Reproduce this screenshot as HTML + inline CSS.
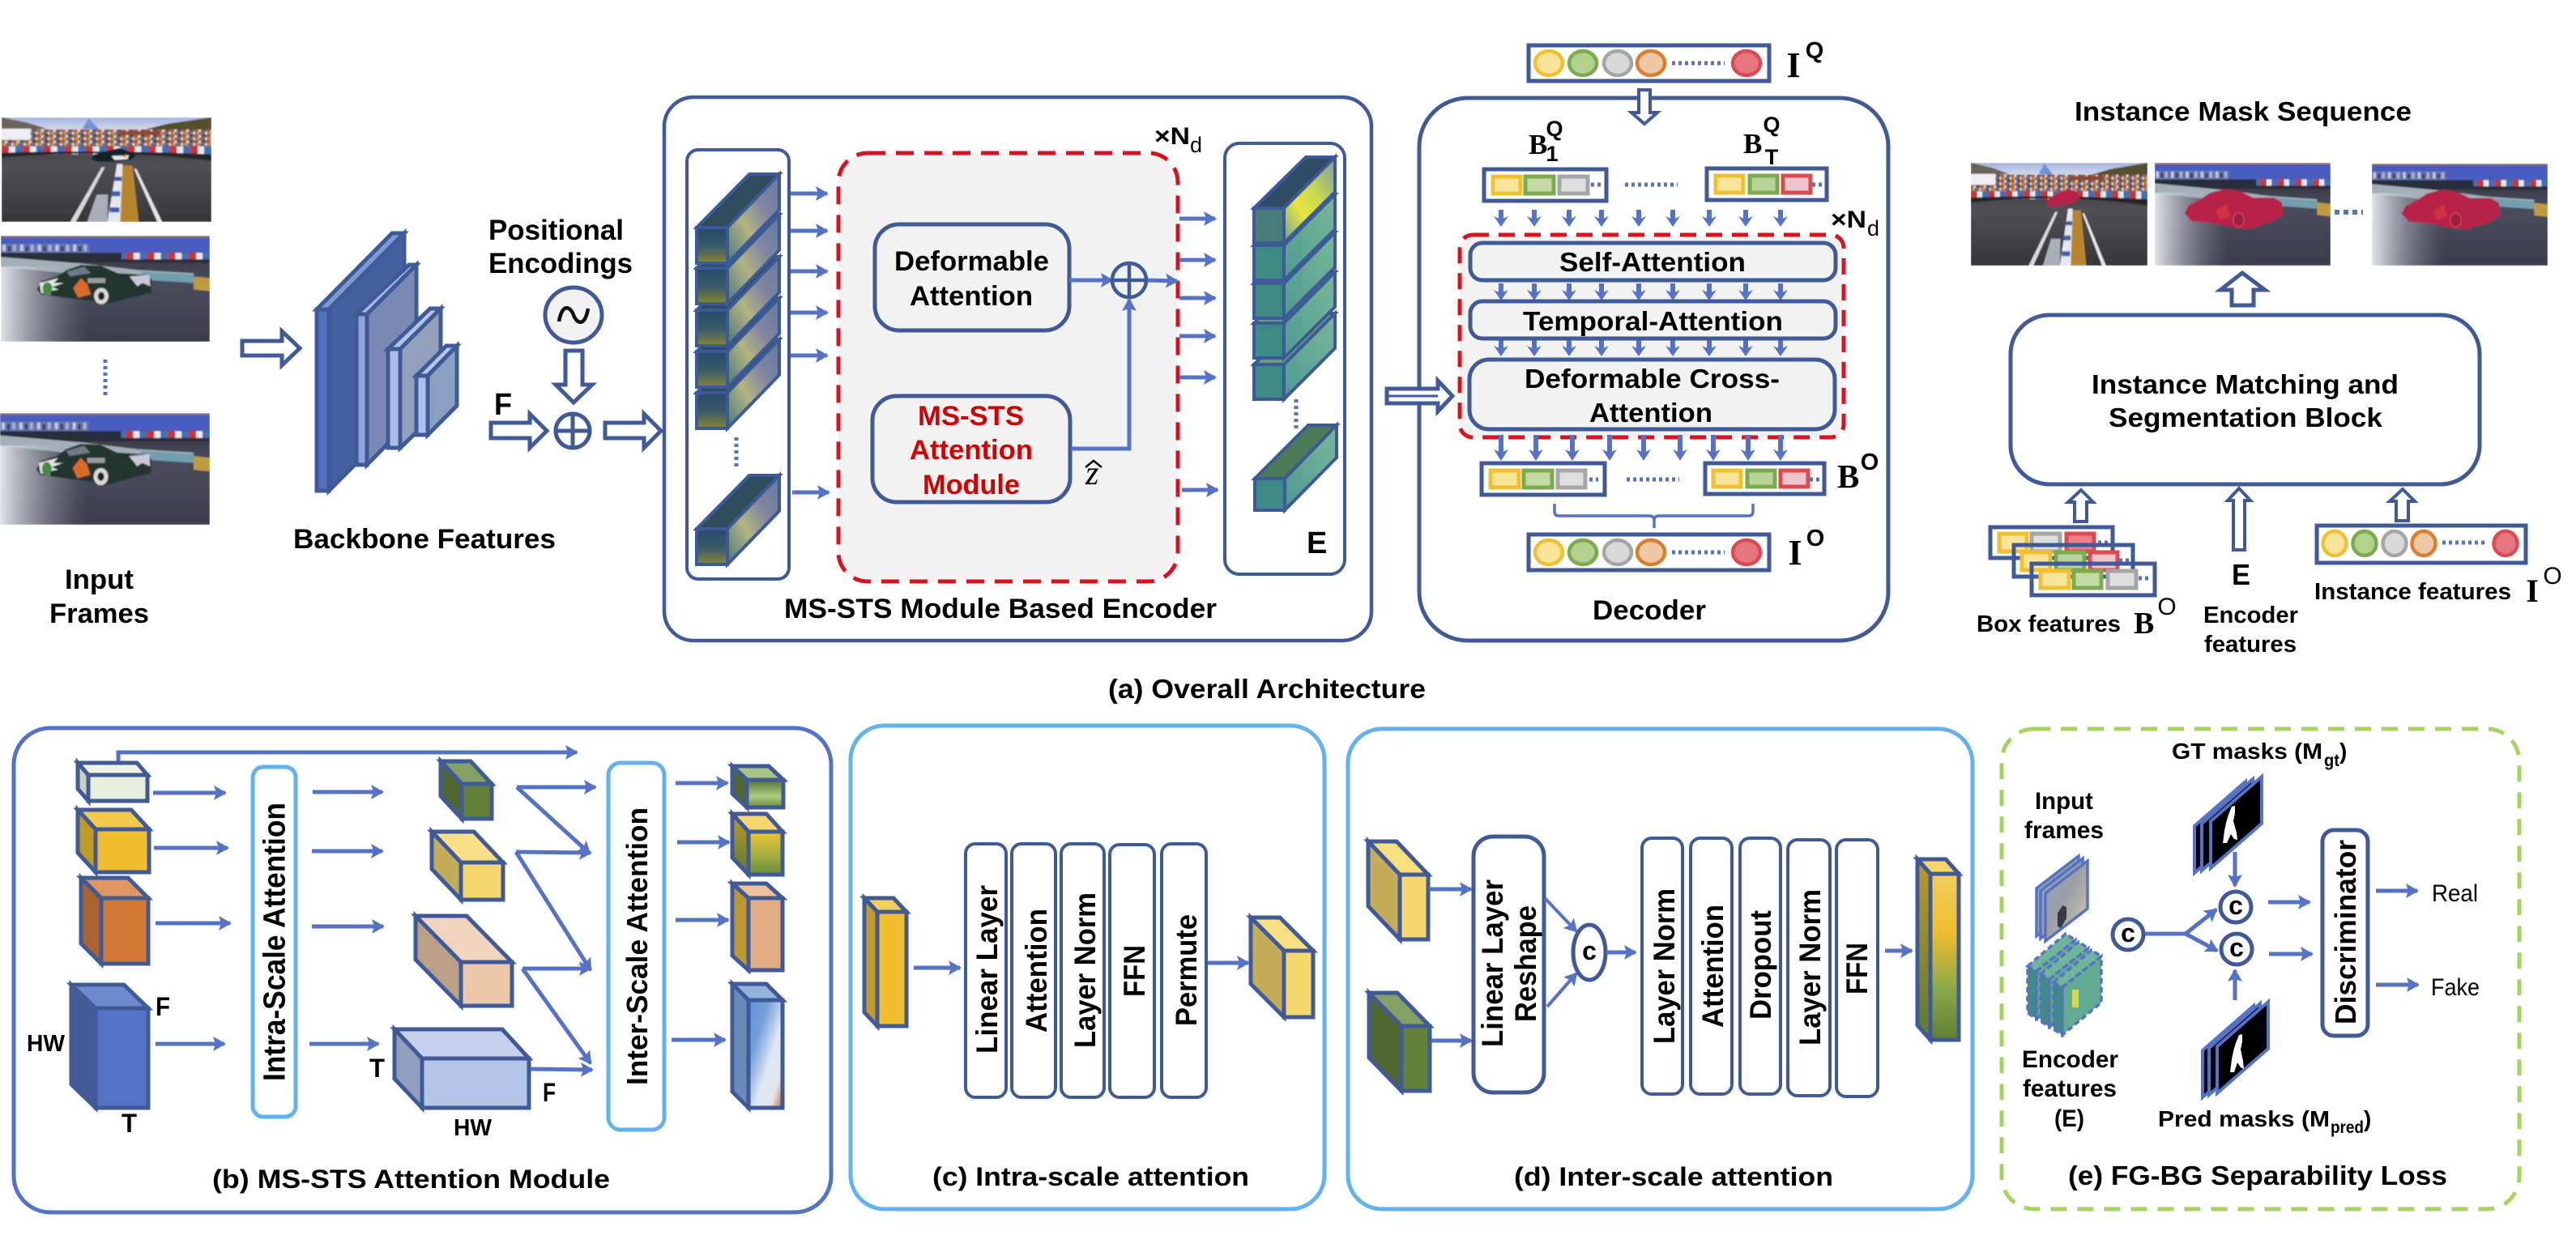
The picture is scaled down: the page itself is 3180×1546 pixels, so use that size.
<!DOCTYPE html>
<html><head><meta charset="utf-8"><style>
html,body{margin:0;padding:0;background:#fff}
svg{display:block}
text{font-family:"Liberation Sans",sans-serif;font-weight:bold;fill:#000}
.s{font-family:"Liberation Serif",serif}
.n{fill:none;stroke:#3f5a96;stroke-width:5}
.w{fill:#fff;stroke:#3f5a96;stroke-width:5}
.g{fill:#f2f2f2;stroke:#3f5a96;stroke-width:5}
.ha{fill:#fff;stroke:#3f5a96;stroke-width:5;stroke-linejoin:miter}
.ar{stroke:#5672c4;stroke-width:5;fill:none;marker-end:url(#m)}
.ln{stroke:#5672c4;stroke-width:5;fill:none}
.dt{stroke:#5672c4;stroke-width:5;stroke-dasharray:4 4;fill:none}
.lb{fill:#fff;stroke:#3f5a96;stroke-width:4}
.cb{stroke:#3f5a96;stroke-width:5;stroke-linejoin:miter}
</style></head><body>
<svg xmlns="http://www.w3.org/2000/svg" width="3180" height="1546" viewBox="0 0 3180 1546">
<defs>
<marker id="m" markerUnits="userSpaceOnUse" markerWidth="20" markerHeight="20" refX="14" refY="9" orient="auto"><path d="M0,0L16,9L0,18L3,9z" fill="#5672c4"/></marker>
<filter id="bl"><feGaussianBlur stdDeviation="0.7"/></filter>
<pattern id="crowd" width="15" height="7" patternUnits="userSpaceOnUse"><rect width="15" height="7" fill="#8a6a5c"/><rect x="0" y="0" width="3" height="3" fill="#c8483c"/><rect x="4" y="1" width="3" height="3" fill="#e8e0d0"/><rect x="9" y="0" width="3" height="3" fill="#3c3c48"/><rect x="2" y="4" width="3" height="3" fill="#d8a050"/><rect x="7" y="4" width="3" height="3" fill="#4a6ab0"/><rect x="12" y="4" width="3" height="3" fill="#e8d8c8"/></pattern>
<pattern id="barr" width="26" height="10" patternUnits="userSpaceOnUse"><rect width="9" height="10" fill="#c8343a"/><rect x="9" width="8" height="10" fill="#e8e8ee"/><rect x="17" width="9" height="10" fill="#3f6fb8"/></pattern>
<pattern id="wall" width="22" height="10" patternUnits="userSpaceOnUse"><rect width="22" height="10" fill="#6a7aa8"/><rect x="2" y="1" width="4" height="8" fill="#d8dce8"/><rect x="9" y="3" width="3" height="6" fill="#2c3450"/><rect x="15" y="1" width="4" height="8" fill="#b8c0d8"/></pattern>
<linearGradient id="skyA" x1="0" y1="0" x2="0" y2="1"><stop offset="0" stop-color="#a4b4e0"/><stop offset="1" stop-color="#d8def0"/></linearGradient>
<linearGradient id="roadA" x1="0" y1="0" x2="0" y2="1"><stop offset="0" stop-color="#2c2c30"/><stop offset="0.45" stop-color="#505054"/><stop offset="1" stop-color="#38363a"/></linearGradient>
<linearGradient id="roadB" x1="0" y1="0" x2="0" y2="1"><stop offset="0" stop-color="#2e3038"/><stop offset="0.45" stop-color="#4a4c5c"/><stop offset="1" stop-color="#3a3c4c"/></linearGradient>
<linearGradient id="glare" x1="0" y1="0" x2="1" y2="0"><stop offset="0" stop-color="#e8ecf0" stop-opacity=".95"/><stop offset="0.2" stop-color="#b8bcc8" stop-opacity=".5"/><stop offset="0.42" stop-color="#8a8ea0" stop-opacity="0"/></linearGradient>
<linearGradient id="fSide" x1="1" y1="0" x2="0" y2="1"><stop offset="0" stop-color="#63789c"/><stop offset=".35" stop-color="#8286a0"/><stop offset=".62" stop-color="#b2b480"/><stop offset="1" stop-color="#4a7682"/></linearGradient>
<linearGradient id="fFront" x1="0" y1="0" x2="0" y2="1"><stop offset="0" stop-color="#27486c"/><stop offset=".55" stop-color="#3c5c68"/><stop offset="1" stop-color="#8a8438"/></linearGradient>
<linearGradient id="eSide" x1="0" y1="1" x2="1" y2="0"><stop offset="0" stop-color="#4f9a92"/><stop offset="1" stop-color="#78b898"/></linearGradient>
<linearGradient id="eSideY" x1="1" y1="0" x2="0" y2="1"><stop offset="0" stop-color="#7a9aa8"/><stop offset=".4" stop-color="#c8d850"/><stop offset=".65" stop-color="#e8e440"/><stop offset="1" stop-color="#6f9f94"/></linearGradient>
<linearGradient id="gyv" x1="0" y1="0" x2="0" y2="1"><stop offset="0" stop-color="#f2c22f"/><stop offset=".5" stop-color="#a9b23f"/><stop offset="1" stop-color="#6b8c3c"/></linearGradient>
<linearGradient id="gyv2" x1="0" y1="0" x2="0" y2="1"><stop offset="0" stop-color="#f0ce60"/><stop offset=".35" stop-color="#efbd2f"/><stop offset=".7" stop-color="#8aa84a"/><stop offset="1" stop-color="#5f7f38"/></linearGradient>
<linearGradient id="gyl" x1="0" y1="0" x2="0" y2="1"><stop offset="0" stop-color="#bd9a28"/><stop offset="1" stop-color="#5c7a33"/></linearGradient>
<linearGradient id="ggv" x1="0" y1="0" x2="0" y2="1"><stop offset="0" stop-color="#567232"/><stop offset=".6" stop-color="#b0cc85"/><stop offset="1" stop-color="#6a8a40"/></linearGradient>
<linearGradient id="gbl" x1="0" y1="0" x2="1" y2="1"><stop offset="0" stop-color="#5f8fd8"/><stop offset=".3" stop-color="#72a0dc"/><stop offset=".6" stop-color="#dfe8f4"/><stop offset=".82" stop-color="#dfe4ec"/><stop offset="1" stop-color="#c8682c"/></linearGradient>
<linearGradient id="gfr" x1="0" y1="0" x2="1" y2="1"><stop offset="0" stop-color="#8fa8c8"/><stop offset=".45" stop-color="#9a9ea8"/><stop offset="1" stop-color="#d8c8a8"/></linearGradient>

<g id="bgA">
<rect width="260" height="130" fill="url(#roadA)"/>
<rect width="260" height="17" fill="url(#skyA)"/>
<path d="M0,0L30,6L56,14L0,18z" fill="#6a6458"/>
<path d="M170,17L205,8L260,0V18z" fill="#55502f"/>
<path d="M100,14L108,1L122,16z" fill="#6f93d8"/>
<rect x="0" y="15" width="260" height="23" fill="url(#crowd)"/>
<rect x="0" y="14" width="36" height="14" fill="#eceef4"/>
<rect x="146" y="17" width="50" height="5" fill="#8a4a30"/>
<rect x="0" y="36" width="260" height="10" fill="url(#barr)"/>
<path d="M0,50Q130,38 260,54V46Q130,40 0,44z" fill="#262628"/>
<path d="M85,130L124,62L128,62L92,130z" fill="#d8d8d8"/>
<path d="M106,130L118,96L132,96L131,130z" fill="#a8aeb8"/>
<path d="M131,130L143,58L150,58L149,130z" fill="#e4e6f0"/>
<path d="M134,112h12v6h-12zM136,92h11v6h-11zM139,74h10v5h-10z" fill="#3f5fa8"/>
<path d="M147,130L150,60L162,60L170,130z" fill="#b8852e"/>
<path d="M164,64L167,64L199,130L193,130z" fill="#e4e4e4"/>
</g>
<g id="carA"><path d="M110,52L116,46L130,42L146,38L160,43L166,48L162,52L140,55L120,55z" fill="#16202a"/><path d="M136,48L158,47L156,52L140,53z" fill="#e8e8e8"/><path d="M148,48L155,46L154,50z" fill="#d8901e"/></g>
<g id="carAr"><path d="M111,50L116,44L128,38L146,33L158,39L160,46L150,51L125,55L113,55z" fill="#b8234a"/></g>
<g id="bgB">
<rect width="260" height="130" fill="url(#roadB)"/>
<rect width="260" height="24" fill="#4a5cc0"/>
<rect width="260" height="2" fill="#a07a60"/>
<rect x="0" y="10" width="110" height="11" fill="url(#wall)" opacity=".85"/>
<rect x="0" y="21" width="260" height="12" fill="#2c2e3a"/>
<rect x="150" y="21" width="110" height="8" fill="url(#barr)"/>
<path d="M0,26L100,34L170,42L240,46V56L170,52L100,48L0,38z" fill="#a2aeb8"/>
<path d="M175,44L240,48V58L175,54z" fill="#6f9fae"/>
<path d="M240,50L260,52V68L240,66z" fill="#c09a40"/>
<rect y="38" width="260" height="92" fill="url(#glare)"/>
</g>
<g id="carB"><path d="M45,66L50,56L70,50L82,42L100,36L125,37L145,46L178,48L188,54L187,70L170,74L130,84L115,80L65,74L50,72z" fill="#22352f"/>
<path d="M48,58L72,52L66,58L78,58L64,63L72,66L60,68L62,73L50,70z" fill="#e4e4e4"/><path d="M160,50L185,48L186,62L176,58L170,62z" fill="#c8c8d8"/>
<path d="M90,64L100,52L108,60L112,72L96,76z" fill="#d86a2a"/><ellipse cx="125" cy="74" rx="9" ry="10" fill="#d8d8d8"/><ellipse cx="125" cy="74" rx="4" ry="5" fill="#222"/><ellipse cx="58" cy="65" rx="6" ry="8" fill="#4a8a4a"/><path d="M82,44L104,38L112,46L86,50z" fill="#707a84"/><path d="M108,52h22v6h-22z" fill="#c8c8c8" opacity=".7"/></g>
<g id="carBr"><path d="M44,64L50,54L66,47L82,38L104,33L126,36L145,44L176,44L188,50L190,66L176,74L140,84L115,82L85,76L55,74z" fill="#b8234a"/><ellipse cx="124" cy="72" rx="8" ry="9" fill="#a01c3c" stroke="#d04a64" stroke-width="1.5"/><path d="M90,60L106,52L112,68L96,72z" fill="#cf3040"/></g>
<symbol id="pA" viewBox="0 0 260 130" preserveAspectRatio="none"><g filter="url(#bl)"><use href="#bgA"/><use href="#carA"/></g></symbol>
<symbol id="pAr" viewBox="0 0 260 130" preserveAspectRatio="none"><g filter="url(#bl)"><use href="#bgA"/><use href="#carAr"/></g></symbol>
<symbol id="pB" viewBox="0 0 260 130" preserveAspectRatio="none"><g filter="url(#bl)"><use href="#bgB"/><use href="#carB"/></g></symbol>
<symbol id="pBr" viewBox="0 0 260 130" preserveAspectRatio="none"><g filter="url(#bl)"><use href="#bgB"/><use href="#carBr"/></g></symbol>

<g id="fc" stroke="#3c5a96" stroke-width="4" stroke-linejoin="miter"><path d="M0,0H38L102,-66H65z" fill="#2f4c5c"/><path d="M38,0L102,-66V-22L38,44z" fill="url(#fSide)"/><rect width="38" height="44" fill="url(#fFront)"/></g>
<g id="ec" stroke="#3c5a96" stroke-width="4" stroke-linejoin="miter"><path d="M0,0H37L100,-63H64z" fill="#6aa078"/><path d="M37,0L100,-63V-20L37,43z" fill="url(#eSide)"/><rect width="37" height="43" fill="#3f8a85"/></g>
<g id="dn"><line x1="0" y1="0" x2="0" y2="12" stroke="#5672c4" stroke-width="6"/><path d="M-9,8L0,12L9,8L0,21z" fill="#5672c4"/></g>
<g id="dl"><line x1="0" y1="0" x2="0" y2="22" stroke="#5672c4" stroke-width="6"/><path d="M-9,18L0,22L9,18L0,32z" fill="#5672c4"/></g>
<g id="iq">
<rect x="1887" y="0" width="297" height="44" fill="#fff" stroke="#3f5a96" stroke-width="5"/>
<g stroke-width="4.5"><ellipse cx="1912" cy="22" rx="17" ry="15" fill="#f8e59a" stroke="#f0c030"/><ellipse cx="1954" cy="22" rx="17" ry="15" fill="#b1d18c" stroke="#7bab4e"/><ellipse cx="1997" cy="22" rx="17" ry="15" fill="#d9d9d9" stroke="#a6a6a6"/><ellipse cx="2038" cy="22" rx="17" ry="15" fill="#eec8a5" stroke="#d97f30"/><ellipse cx="2156" cy="22" rx="17" ry="15" fill="#e67680" stroke="#dd4a52"/></g>
<line x1="2064" y1="22" x2="2129" y2="22" class="dt"/>
</g>
<g id="mk"><path d="M0,58V0L63,-55V3z" fill="#000" stroke="#5672c4" stroke-width="4"/></g>
<g id="fr"><path d="M0,59V0L52,-40V19z" fill="url(#gfr)" stroke="#5672c4" stroke-width="3.5"/></g>
<g id="sl"><path d="M0,0L47,-40L59,-32L11,6z" fill="#6fb59a" stroke="#5672c4" stroke-width="3.5" stroke-dasharray="7 4"/><path d="M11,6L59,-32V25L11,65z" fill="#62aa92" stroke="#5672c4" stroke-width="3.5" stroke-dasharray="7 4"/><path d="M0,0L11,6V65L0,58z" fill="#3f8a80" stroke="#5672c4" stroke-width="3.5" stroke-dasharray="7 4"/></g>
</defs>
<rect width="3180" height="1546" fill="#fff"/>

<!-- input frames -->
<use href="#pA" x="2" y="145" width="259" height="129"/>
<use href="#pB" x="1" y="291" width="258" height="131"/>
<line x1="130" y1="444" x2="130" y2="491" class="dt"/>
<use href="#pB" x="0" y="510" width="259" height="138"/>
<text x="80" y="727" textLength="85" lengthAdjust="spacingAndGlyphs" font-size="34">Input</text>
<text x="61" y="769" textLength="123" lengthAdjust="spacingAndGlyphs" font-size="34">Frames</text>
<polygon class="ha" points="299,421 348,421 348,409 370,430 348,451 348,439 299,439"/>

<!-- backbone -->
<g class="cb">
<path d="M391,382L484,288H499L406,382z" fill="#7e98d4"/>
<path d="M406,382L499,288V513L406,606z" fill="#465f9f"/>
<rect x="391" y="382" width="15" height="224" fill="#5272bd"/>
<path d="M440,388L505,327H514L453,388z" fill="#a6b8e2"/>
<path d="M453,388L514,327V512L453,574z" fill="#7b8ab5"/>
<rect x="440" y="388" width="13" height="186" fill="#8fa5d8"/>
<path d="M479,431L531,381H544L494,431z" fill="#b4c4e6"/>
<path d="M494,431L544,381V505L494,553z" fill="#93a1bd"/>
<rect x="479" y="431" width="15" height="122" fill="#a9bde6"/>
<path d="M514,464L551,427H564L528,464z" fill="#b4c8ea"/>
<path d="M528,464L564,427V501L528,537z" fill="#8aa1c2"/>
<rect x="514" y="464" width="14" height="73" fill="#a9c2ea"/>
</g>
<text x="362" y="677" textLength="324" lengthAdjust="spacingAndGlyphs" font-size="34">Backbone Features</text>
<text x="603" y="296" textLength="167" lengthAdjust="spacingAndGlyphs" font-size="35">Positional</text>
<text x="603" y="337" textLength="178" lengthAdjust="spacingAndGlyphs" font-size="35">Encodings</text>
<ellipse cx="708" cy="389" rx="35" ry="34" fill="#f2f2f2" stroke="#3f5a96" stroke-width="5"/>
<path d="M690,397C694,374 704,378 708,389S722,404 726,381" fill="none" stroke="#111" stroke-width="4.5"/>
<polygon class="ha" points="698,433 719,433 719,475 731,475 708,497 686,475 698,475"/>
<text x="610" y="512" textLength="22" lengthAdjust="spacingAndGlyphs" font-size="38">F</text>
<polygon class="ha" points="606,522 654,522 654,511 675,532 654,553 654,541 606,541"/>
<circle cx="707" cy="532" r="21" class="w"/><path d="M686,532H728M707,511V553" class="n"/>
<polygon class="ha" points="747,522 795,522 795,511 816,532 795,553 795,541 747,541"/>

<!-- encoder -->
<rect x="820" y="120" width="873" height="671" rx="36" fill="#fff" stroke="#3f5a96" stroke-width="4.5"/>
<rect x="848" y="185" width="126" height="530" rx="14" class="lb"/>
<rect x="1512" y="177" width="148" height="532" rx="18" class="lb"/>
<rect x="1035" y="189" width="419" height="529" rx="36" fill="#f2f2f2" stroke="#d9121f" stroke-width="5" stroke-dasharray="22 13"/>
<use href="#fc" x="860" y="485"/><use href="#fc" x="860" y="434"/><use href="#fc" x="860" y="383"/><use href="#fc" x="860" y="331"/><use href="#fc" x="860" y="281"/>
<line x1="909" y1="540" x2="909" y2="580" class="dt"/>
<use href="#fc" x="860" y="653"/>
<g><line x1="976" y1="239" x2="1021" y2="239" class="ar"/><line x1="976" y1="285" x2="1021" y2="285" class="ar"/><line x1="976" y1="335" x2="1021" y2="335" class="ar"/><line x1="976" y1="386" x2="1021" y2="386" class="ar"/><line x1="976" y1="439" x2="1021" y2="439" class="ar"/><line x1="978" y1="608" x2="1023" y2="608" class="ar"/>
<line x1="1456" y1="270" x2="1500" y2="270" class="ar"/><line x1="1456" y1="321" x2="1500" y2="321" class="ar"/><line x1="1456" y1="368" x2="1500" y2="368" class="ar"/><line x1="1456" y1="415" x2="1500" y2="415" class="ar"/><line x1="1456" y1="466" x2="1500" y2="466" class="ar"/><line x1="1459" y1="605" x2="1503" y2="605" class="ar"/></g>
<rect x="1080" y="277" width="240" height="131" rx="30" class="g"/>
<rect x="1077" y="489" width="244" height="131" rx="30" class="g"/>
<text x="1104" y="334" textLength="191" lengthAdjust="spacingAndGlyphs" font-size="34">Deformable</text>
<text x="1123" y="377" textLength="152" lengthAdjust="spacingAndGlyphs" font-size="34">Attention</text>
<text x="1133" y="525" textLength="131" lengthAdjust="spacingAndGlyphs" font-size="34" style="fill:#d00000">MS-STS</text>
<text x="1123" y="567" textLength="152" lengthAdjust="spacingAndGlyphs" font-size="34" style="fill:#d00000">Attention</text>
<text x="1139" y="610" textLength="120" lengthAdjust="spacingAndGlyphs" font-size="34" style="fill:#d00000">Module</text>
<line x1="1320" y1="346" x2="1373" y2="346" class="ar"/>
<line x1="1416" y1="346" x2="1453" y2="347" class="ar"/>
<path d="M1322,554H1394V370" class="ar"/>
<circle cx="1394" cy="346" r="21" fill="#f2f2f2" stroke="#3f5a96" stroke-width="4.5"/><path d="M1373,346H1415M1394,325V367" fill="none" stroke="#3f5a96" stroke-width="4.5"/>
<text x="1340" y="598" font-size="42" class="s" style="font-style:italic;font-weight:normal">z</text>
<path d="M1340,577L1350,569L1360,577" fill="none" stroke="#000" stroke-width="2.5"/>
<use href="#ec" x="1548" y="450"/><use href="#ec" x="1548" y="399"/><use href="#ec" x="1548" y="350"/><use href="#ec" x="1548" y="303"/>
<g stroke="#3c5a96" stroke-width="4" stroke-linejoin="miter"><path d="M1548,257H1585L1648,194H1612z" fill="#2f4c64"/><path d="M1585,257L1648,194V237L1585,300z" fill="url(#eSideY)"/><rect x="1548" y="257" width="37" height="43" fill="#4a7c7a"/></g>
<line x1="1600" y1="493" x2="1600" y2="531" class="dt"/>
<g stroke="#3c5a96" stroke-width="4" stroke-linejoin="miter"><path d="M1549,591H1586L1650,525H1615z" fill="#4f7a5a"/><path d="M1586,591L1650,525V565L1586,630z" fill="url(#eSide)"/><rect x="1549" y="591" width="37" height="39" fill="#3f8a85"/></g>
<text x="1613" y="683" font-size="38">E</text>
<text x="1425" y="178" font-size="30" textLength="44" lengthAdjust="spacingAndGlyphs">×N</text><text x="1469" y="188" font-size="27" style="font-weight:normal">d</text>
<text x="968" y="763" textLength="534" lengthAdjust="spacingAndGlyphs" font-size="34">MS-STS Module Based Encoder</text>

<!-- decoder -->
<rect x="1752" y="121" width="579" height="670" rx="60" class="w"/>
<polygon class="ha" points="1712,480 1775,480 1775,470 1793,489 1775,508 1775,498 1712,498"/>
<line x1="1712" y1="489" x2="1775" y2="489" stroke="#3f5a96" stroke-width="3"/>
<use href="#iq" x="0" y="56"/>
<polygon points="2023,111 2037,111 2037,139 2046,139 2030,153 2014,139 2023,139" fill="#fff" stroke="#3f5a96" stroke-width="4"/>
<text x="2214" y="95" text-anchor="middle" font-size="44" class="s">I</text><text x="2240" y="72" text-anchor="middle" font-size="29">Q</text>
<text x="1887" y="190" font-size="35" class="s">B</text><text x="1919" y="168" text-anchor="middle" font-size="27">Q</text><text x="1916" y="199" text-anchor="middle" font-size="27">1</text>
<text x="2152" y="189" font-size="35" class="s">B</text><text x="2187" y="163" text-anchor="middle" font-size="27">Q</text><text x="2187" y="203" text-anchor="middle" font-size="27">T</text>

<g>
<rect x="1832" y="209" width="151" height="39" class="w"/>
<rect x="1843" y="218" width="34" height="21" fill="#f8e59a" stroke="#f0c030" stroke-width="5"/><rect x="1883" y="218" width="35" height="21" fill="#c4d9a4" stroke="#7bab4e" stroke-width="5"/><rect x="1925" y="218" width="35" height="21" fill="#dedede" stroke="#a6a6a6" stroke-width="5"/>
<line x1="1964" y1="228" x2="1976" y2="228" class="dt"/>
<line x1="2006" y1="228" x2="2071" y2="228" class="dt"/>
<rect x="2107" y="208" width="148" height="39" class="w"/>
<rect x="2118" y="217" width="34" height="21" fill="#f8e59a" stroke="#f0c030" stroke-width="5"/><rect x="2160" y="217" width="34" height="21" fill="#b8d498" stroke="#7bab4e" stroke-width="5"/><rect x="2201" y="217" width="34" height="21" fill="#f0c4cc" stroke="#dd4a52" stroke-width="5"/>
<line x1="2237" y1="228" x2="2249" y2="228" class="dt"/>
</g>
<rect x="1802" y="290" width="474" height="250" rx="16" fill="#f2f2f2" stroke="#d9121f" stroke-width="5" stroke-dasharray="20 12"/>
<use href="#dn" x="1853" y="259"/><use href="#dn" x="1894" y="259"/><use href="#dn" x="1937" y="259"/><use href="#dn" x="1977" y="259"/><use href="#dn" x="2023" y="259"/><use href="#dn" x="2065" y="259"/><use href="#dn" x="2110" y="259"/><use href="#dn" x="2155" y="259"/><use href="#dn" x="2198" y="259"/>
<use href="#dn" x="1853" y="350"/><use href="#dn" x="1894" y="350"/><use href="#dn" x="1937" y="350"/><use href="#dn" x="1977" y="350"/><use href="#dn" x="2023" y="350"/><use href="#dn" x="2065" y="350"/><use href="#dn" x="2110" y="350"/><use href="#dn" x="2155" y="350"/><use href="#dn" x="2198" y="350"/>
<use href="#dn" x="1853" y="419"/><use href="#dn" x="1894" y="419"/><use href="#dn" x="1937" y="419"/><use href="#dn" x="1977" y="419"/><use href="#dn" x="2023" y="419"/><use href="#dn" x="2065" y="419"/><use href="#dn" x="2110" y="419"/><use href="#dn" x="2155" y="419"/><use href="#dn" x="2198" y="419"/>
<rect x="1815" y="300" width="451" height="46" rx="15" class="g"/>
<rect x="1815" y="372" width="451" height="46" rx="15" class="g"/>
<rect x="1814" y="444" width="451" height="86" rx="24" class="g"/>
<text x="1925" y="335" textLength="230" lengthAdjust="spacingAndGlyphs" font-size="33">Self-Attention</text>
<text x="1880" y="408" textLength="321" lengthAdjust="spacingAndGlyphs" font-size="33">Temporal-Attention</text>
<text x="1882" y="479" textLength="315" lengthAdjust="spacingAndGlyphs" font-size="33">Deformable Cross-</text>
<text x="1962" y="521" textLength="152" lengthAdjust="spacingAndGlyphs" font-size="33">Attention</text>
<text x="2260" y="281" font-size="30" textLength="44" lengthAdjust="spacingAndGlyphs">×N</text><text x="2305" y="291" font-size="27" style="font-weight:normal">d</text>
<use href="#dl" x="1853" y="537"/><use href="#dl" x="1896" y="537"/><use href="#dl" x="1941" y="537"/><use href="#dl" x="1987" y="537"/><use href="#dl" x="2029" y="537"/><use href="#dl" x="2074" y="537"/><use href="#dl" x="2115" y="537"/><use href="#dl" x="2158" y="537"/><use href="#dl" x="2198" y="537"/>
<rect x="1829" y="572" width="152" height="39" class="w"/>
<rect x="1840" y="581" width="35" height="21" fill="#f8e59a" stroke="#f0c030" stroke-width="5"/><rect x="1881" y="581" width="35" height="21" fill="#c4d9a4" stroke="#7bab4e" stroke-width="5"/><rect x="1923" y="581" width="34" height="21" fill="#dedede" stroke="#a6a6a6" stroke-width="5"/>
<line x1="1962" y1="592" x2="1973" y2="592" class="dt"/><line x1="2008" y1="592" x2="2073" y2="592" class="dt"/>
<rect x="2105" y="572" width="147" height="38" class="w"/>
<rect x="2115" y="581" width="34" height="20" fill="#f8e59a" stroke="#f0c030" stroke-width="5"/><rect x="2157" y="581" width="34" height="20" fill="#b8d498" stroke="#7bab4e" stroke-width="5"/><rect x="2198" y="581" width="34" height="20" fill="#f0c4cc" stroke="#dd4a52" stroke-width="5"/>
<line x1="2234" y1="592" x2="2246" y2="592" class="dt"/>
<text x="2268" y="602" font-size="41" class="s">B</text><text x="2308" y="580" text-anchor="middle" font-size="29">O</text>
<path d="M1919,622V632Q1919,637 1925,637H2036Q2042,637 2042,642V652M2042,642Q2042,637 2048,637H2158Q2164,637 2164,632V622" fill="none" stroke="#5672c4" stroke-width="3.5"/>
<use href="#iq" x="0" y="660"/>
<text x="2216" y="697" text-anchor="middle" font-size="44" class="s">I</text><text x="2241" y="674" text-anchor="middle" font-size="29">O</text>
<text x="1966" y="765" textLength="140" lengthAdjust="spacingAndGlyphs" font-size="34">Decoder</text>

<!-- right -->
<text x="2561" y="149" textLength="416" lengthAdjust="spacingAndGlyphs" font-size="33">Instance Mask Sequence</text>
<use href="#pAr" x="2433" y="201" width="218" height="127"/>
<use href="#pBr" x="2660" y="201" width="217" height="127"/>
<use href="#pBr" x="2928" y="202" width="217" height="126"/>
<line x1="2882" y1="262" x2="2917" y2="262" stroke="#5672c4" stroke-width="6" stroke-dasharray="6 5"/>
<polygon class="ha" points="2768,337 2796,358 2782,358 2782,377 2755,377 2755,358 2741,358"/>
<rect x="2482" y="389" width="579" height="209" rx="48" class="w"/>
<text x="2582" y="486" textLength="379" lengthAdjust="spacingAndGlyphs" font-size="33">Instance Matching and</text>
<text x="2603" y="527" textLength="338" lengthAdjust="spacingAndGlyphs" font-size="33">Segmentation Block</text>
<polygon class="ha" points="2569,605 2584,620 2576,620 2576,644 2561,644 2561,620 2553,620" style="stroke-width:4"/>
<polygon class="ha" points="2764,603 2778,618 2771,618 2771,679 2757,679 2757,618 2750,618" style="stroke-width:4"/>
<polygon class="ha" points="2966,604 2981,619 2973,619 2973,643 2958,643 2958,619 2950,619" style="stroke-width:4"/>
<rect x="2457" y="651" width="151" height="38" class="w"/>
<rect x="2468" y="659" width="34" height="22" fill="#f8e59a" stroke="#f0c030" stroke-width="5"/><rect x="2508" y="659" width="35" height="22" fill="#dedede" stroke="#a6a6a6" stroke-width="5"/><rect x="2551" y="659" width="34" height="22" fill="#e88088" stroke="#dd4a52" stroke-width="5"/>
<line x1="2590" y1="670" x2="2602" y2="670" class="dt"/>
<rect x="2486" y="673" width="147" height="39" class="n"/>
<rect x="2496" y="682" width="35" height="22" fill="#f8e59a" stroke="#f0c030" stroke-width="5"/><rect x="2538" y="682" width="35" height="22" fill="#b8d498" stroke="#7bab4e" stroke-width="5"/><rect x="2580" y="682" width="34" height="22" fill="#f0c4cc" stroke="#dd4a52" stroke-width="5"/>
<line x1="2616" y1="692" x2="2628" y2="692" class="dt"/>
<rect x="2508" y="696" width="152" height="39" class="n"/>
<rect x="2519" y="705" width="35" height="21" fill="#f8e59a" stroke="#f0c030" stroke-width="5"/><rect x="2560" y="705" width="34" height="21" fill="#c4d9a4" stroke="#7bab4e" stroke-width="5"/><rect x="2602" y="705" width="35" height="21" fill="#dedede" stroke="#a6a6a6" stroke-width="5"/>
<line x1="2640" y1="714" x2="2652" y2="714" class="dt"/>
<rect x="2860" y="649" width="258" height="46" class="w"/>
<g stroke-width="4.5"><ellipse cx="2882" cy="671" rx="14.5" ry="15" fill="#f8e59a" stroke="#f0c030"/><ellipse cx="2919" cy="671" rx="14.5" ry="15" fill="#b1d18c" stroke="#7bab4e"/><ellipse cx="2956" cy="671" rx="14.5" ry="15" fill="#d9d9d9" stroke="#a6a6a6"/><ellipse cx="2992" cy="671" rx="14.5" ry="15" fill="#eec8a5" stroke="#d97f30"/><ellipse cx="3093" cy="671" rx="14.5" ry="15" fill="#e67680" stroke="#dd4a52"/></g>
<line x1="3015" y1="670" x2="3070" y2="670" class="dt"/>
<text x="2755" y="722" font-size="36" textLength="23" lengthAdjust="spacingAndGlyphs">E</text>
<text x="2440" y="780" textLength="178" lengthAdjust="spacingAndGlyphs" font-size="29">Box features</text>
<text x="2634" y="782" font-size="38" class="s">B</text><text x="2675" y="759" text-anchor="middle" font-size="30" style="font-weight:normal">O</text>
<text x="2720" y="769" textLength="117" lengthAdjust="spacingAndGlyphs" font-size="29">Encoder</text>
<text x="2721" y="805" textLength="114" lengthAdjust="spacingAndGlyphs" font-size="29">features</text>
<text x="2857" y="740" textLength="243" lengthAdjust="spacingAndGlyphs" font-size="29">Instance features</text>
<text x="3126" y="743" text-anchor="middle" font-size="40" class="s">I</text><text x="3151" y="721" text-anchor="middle" font-size="30" style="font-weight:normal">O</text>

<text x="1368" y="862" textLength="392" lengthAdjust="spacingAndGlyphs" font-size="33">(a) Overall Architecture</text>

<!-- (b) -->
<rect x="17" y="899" width="1009" height="598" rx="45" fill="none" stroke="#5672c4" stroke-width="5"/>
<path d="M146,942V929H712" class="ar"/>
<g class="cb">
<path d="M109,957H182L169,942H96z" fill="#eef3e4"/><path d="M109,957L96,942V974L109,989z" fill="#c8d0bf"/><rect x="109" y="957" width="73" height="32" fill="#e7eedc"/>
<path d="M118,1024H184L162,1000H96z" fill="#f2cb4d"/><path d="M118,1024L96,1000V1053L118,1077z" fill="#be9a27"/><rect x="118" y="1024" width="66" height="53" fill="#efbd2f"/>
<path d="M125,1109H183L158,1084H100z" fill="#df9560"/><path d="M125,1109L100,1084V1165L125,1190z" fill="#a96230"/><rect x="125" y="1109" width="58" height="81" fill="#d27a38"/>
<path d="M118,1245H183L153,1216H88z" fill="#7089cc"/><path d="M118,1245L88,1216V1339L118,1368z" fill="#445b98"/><rect x="118" y="1245" width="65" height="123" fill="#5572c2"/>
</g>
<text x="192" y="1254" textLength="18" lengthAdjust="spacingAndGlyphs" font-size="32">F</text>
<text x="33" y="1298" textLength="47" lengthAdjust="spacingAndGlyphs" font-size="29">HW</text>
<text x="150" y="1398" textLength="19" lengthAdjust="spacingAndGlyphs" font-size="32">T</text>
<line x1="189" y1="979" x2="278" y2="979" class="ar"/><line x1="190" y1="1047" x2="281" y2="1047" class="ar"/><line x1="192" y1="1140" x2="284" y2="1140" class="ar"/><line x1="192" y1="1289" x2="277" y2="1289" class="ar"/>
<rect x="312" y="947" width="53" height="432" rx="13" fill="#fff" stroke="#63b1ee" stroke-width="5"/>
<text transform="translate(351.5 1335) rotate(-90)" textLength="344" lengthAdjust="spacingAndGlyphs" font-size="38">Intra-Scale Attention</text>
<line x1="386" y1="978" x2="472" y2="978" class="ar"/><line x1="385" y1="1051" x2="472" y2="1051" class="ar"/><line x1="385" y1="1144" x2="473" y2="1144" class="ar"/><line x1="382" y1="1289" x2="467" y2="1289" class="ar"/>
<g class="cb">
<path d="M570,968H607L581,940H544z" fill="#84a064"/><path d="M570,968L544,940V983L570,1011z" fill="#4f6630"/><rect x="570" y="968" width="37" height="43" fill="#648139"/>
<path d="M569,1065H621L585,1027H533z" fill="#f7df8a"/><path d="M569,1065L533,1027V1073L569,1111z" fill="#c4ad5a"/><rect x="569" y="1065" width="52" height="46" fill="#f5d76e"/>
<path d="M569,1188H632L576,1131H513z" fill="#efd5c0"/><path d="M569,1188L513,1131V1185L569,1242z" fill="#baa089"/><rect x="569" y="1188" width="63" height="54" fill="#ecc8ab"/>
<path d="M521,1307H653L620,1271H487z" fill="#c5d1ea"/><path d="M521,1307L487,1271V1332L521,1368z" fill="#919fbd"/><rect x="521" y="1307" width="132" height="61" fill="#b4c5e5"/>
</g>
<text x="456" y="1330" textLength="19" lengthAdjust="spacingAndGlyphs" font-size="32">T</text>
<text x="670" y="1360" textLength="16" lengthAdjust="spacingAndGlyphs" font-size="32">F</text>
<text x="560" y="1402" textLength="47" lengthAdjust="spacingAndGlyphs" font-size="29">HW</text>
<line x1="638" y1="972" x2="735" y2="972" class="ar"/><line x1="638" y1="972" x2="728" y2="1054" class="ar"/>
<line x1="637" y1="1052" x2="729" y2="1053" class="ar"/><line x1="637" y1="1052" x2="729" y2="1198" class="ar"/>
<line x1="645" y1="1196" x2="729" y2="1196" class="ar"/><line x1="645" y1="1196" x2="729" y2="1313" class="ar"/>
<line x1="655" y1="1320" x2="731" y2="1321" class="ar"/>
<rect x="751" y="942" width="69" height="453" rx="15" fill="#fff" stroke="#63b1ee" stroke-width="5"/>
<text transform="translate(799 1340) rotate(-90)" textLength="343" lengthAdjust="spacingAndGlyphs" font-size="36">Inter-Scale Attention</text>
<line x1="834" y1="967" x2="898" y2="967" class="ar"/><line x1="836" y1="1040" x2="900" y2="1040" class="ar"/><line x1="834" y1="1136" x2="899" y2="1136" class="ar"/><line x1="829" y1="1284" x2="895" y2="1284" class="ar"/>
<g class="cb">
<path d="M922,963H967L949,946H904z" fill="#a9c383"/><path d="M922,963L904,946V980L922,997z" fill="#4f6630"/><rect x="922" y="963" width="45" height="34" fill="url(#ggv)"/>
<path d="M924,1027H966L946,1005H904z" fill="#f5d76e"/><path d="M924,1027L904,1005V1059L924,1080z" fill="url(#gyl)"/><rect x="924" y="1027" width="42" height="53" fill="url(#gyv)"/>
<path d="M924,1109H966L946,1091H904z" fill="#edc19a"/><path d="M924,1109L904,1091V1180L924,1198z" fill="#bd9733"/><rect x="924" y="1109" width="42" height="89" fill="#e2ad85"/>
<path d="M924,1235H966L946,1215H904z" fill="#94b2dc"/><path d="M924,1235L904,1215V1348L924,1368z" fill="#6b8ab8"/><rect x="924" y="1235" width="42" height="133" fill="url(#gbl)"/>
</g>
<text x="262" y="1467" textLength="491" lengthAdjust="spacingAndGlyphs" font-size="32">(b) MS-STS Attention Module</text>

<!-- (c) -->
<rect x="1050" y="896" width="585" height="597" rx="42" fill="none" stroke="#63b1ee" stroke-width="5"/>
<g class="cb"><path d="M1083,1126H1119L1103,1109H1067z" fill="#f2cf5a"/><path d="M1083,1126L1067,1109V1250L1083,1267z" fill="#c29b2c"/><rect x="1083" y="1126" width="36" height="141" fill="#efbd2f"/></g>
<line x1="1128" y1="1195" x2="1185" y2="1195" class="ar"/>
<rect x="1192" y="1042" width="50" height="313" rx="12" class="lb"/><rect x="1249" y="1042" width="54" height="313" rx="12" class="lb"/><rect x="1310" y="1042" width="53" height="313" rx="12" class="lb"/><rect x="1370" y="1043" width="55" height="312" rx="12" class="lb"/><rect x="1434" y="1042" width="55" height="313" rx="12" class="lb"/>
<text transform="translate(1231 1301) rotate(-90)" textLength="208" lengthAdjust="spacingAndGlyphs" font-size="37">Linear Layer</text>
<text transform="translate(1292 1275) rotate(-90)" textLength="153" lengthAdjust="spacingAndGlyphs" font-size="37">Attention</text>
<text transform="translate(1352 1294) rotate(-90)" textLength="192" lengthAdjust="spacingAndGlyphs" font-size="37">Layer Norm</text>
<text transform="translate(1413 1231) rotate(-90)" textLength="64" lengthAdjust="spacingAndGlyphs" font-size="37">FFN</text>
<text transform="translate(1477 1267) rotate(-90)" textLength="138" lengthAdjust="spacingAndGlyphs" font-size="37">Permute</text>
<line x1="1491" y1="1189" x2="1541" y2="1189" class="ar"/>
<g class="cb"><path d="M1585,1174H1621L1580,1133H1544z" fill="#f7df80"/><path d="M1585,1174L1544,1133V1215L1585,1256z" fill="#c4ad5a"/><rect x="1585" y="1174" width="36" height="82" fill="#f5d76e"/></g>
<text x="1151" y="1464" textLength="391" lengthAdjust="spacingAndGlyphs" font-size="32">(c) Intra-scale attention</text>

<!-- (d) -->
<rect x="1664" y="900" width="771" height="593" rx="42" fill="none" stroke="#63b1ee" stroke-width="5"/>
<g class="cb"><path d="M1728,1080H1763L1724,1039H1689z" fill="#f7df80"/><path d="M1728,1080L1689,1039V1119L1728,1160z" fill="#c4ad5a"/><rect x="1728" y="1080" width="35" height="80" fill="#f5d76e"/>
<path d="M1730,1267H1765L1725,1226H1690z" fill="#84a064"/><path d="M1730,1267L1690,1226V1306L1730,1347z" fill="#4f6630"/><rect x="1730" y="1267" width="35" height="80" fill="#648139"/></g>
<line x1="1764" y1="1098" x2="1816" y2="1098" class="ar"/><line x1="1767" y1="1285" x2="1816" y2="1285" class="ar"/>
<rect x="1819" y="1033" width="87" height="316" rx="24" class="w"/>
<text transform="translate(1855 1293) rotate(-90)" textLength="207" lengthAdjust="spacingAndGlyphs" font-size="37">Linear Layer</text>
<text transform="translate(1896 1262) rotate(-90)" textLength="144" lengthAdjust="spacingAndGlyphs" font-size="37">Reshape</text>
<line x1="1907" y1="1109" x2="1946" y2="1150" class="ar" style="stroke-width:4"/><line x1="1910" y1="1243" x2="1946" y2="1202" class="ar" style="stroke-width:4"/>
<ellipse cx="1962" cy="1176" rx="20" ry="34" class="w"/>
<text x="1962" y="1185" text-anchor="middle" font-size="32">c</text>
<line x1="1983" y1="1176" x2="2019" y2="1176" class="ar"/>
<rect x="2027" y="1035" width="50" height="316" rx="12" class="lb"/><rect x="2087" y="1035" width="51" height="316" rx="12" class="lb"/><rect x="2148" y="1035" width="50" height="316" rx="12" class="lb"/><rect x="2207" y="1037" width="52" height="316" rx="12" class="lb"/><rect x="2267" y="1037" width="51" height="317" rx="12" class="lb"/>
<text transform="translate(2067 1289) rotate(-90)" textLength="192" lengthAdjust="spacingAndGlyphs" font-size="37">Layer Norm</text>
<text transform="translate(2127 1269) rotate(-90)" textLength="152" lengthAdjust="spacingAndGlyphs" font-size="37">Attention</text>
<text transform="translate(2186 1259) rotate(-90)" textLength="135" lengthAdjust="spacingAndGlyphs" font-size="37">Dropout</text>
<text transform="translate(2247 1291) rotate(-90)" textLength="193" lengthAdjust="spacingAndGlyphs" font-size="37">Layer Norm</text>
<text transform="translate(2305 1228) rotate(-90)" textLength="64" lengthAdjust="spacingAndGlyphs" font-size="37">FFN</text>
<line x1="2327" y1="1174" x2="2360" y2="1174" class="ar"/>
<g class="cb"><path d="M2383,1079H2418L2402,1061H2367z" fill="#f5d76e"/><path d="M2383,1079L2367,1061V1266L2383,1284z" fill="url(#gyl)"/><rect x="2383" y="1079" width="35" height="205" fill="url(#gyv2)"/></g>
<text x="1869" y="1464" textLength="394" lengthAdjust="spacingAndGlyphs" font-size="32">(d) Inter-scale attention</text>

<!-- (e) -->
<rect x="2471" y="900" width="639" height="593" rx="40" fill="none" stroke="#a5d45d" stroke-width="5" stroke-dasharray="20 13"/>
<text x="2681" y="937" textLength="186" lengthAdjust="spacingAndGlyphs" font-size="28">GT masks (M</text><text x="2869" y="946" font-size="21" textLength="19" lengthAdjust="spacingAndGlyphs">gt</text><text x="2888" y="937" font-size="28">)</text>
<text x="2512" y="999" textLength="72" lengthAdjust="spacingAndGlyphs" font-size="30">Input</text>
<text x="2499" y="1035" textLength="98" lengthAdjust="spacingAndGlyphs" font-size="30">frames</text>
<use href="#mk" x="2709" y="1020"/><use href="#mk" x="2718" y="1017"/><use href="#mk" x="2729" y="1014"/>
<path d="M2744,1041L2746,1026L2748,1016L2751,1006L2755,996L2759,995L2759,1004L2757,1014L2761,1028L2762,1037L2758,1036L2754,1030L2749,1041z" fill="#fff"/>
<use href="#mk" x="2719" y="1297"/><use href="#mk" x="2727" y="1294"/><use href="#mk" x="2737" y="1292"/>
<path d="M2753,1324L2755,1308L2757,1298L2760,1288L2764,1278L2768,1277L2768,1286L2766,1296L2769,1310L2770,1320L2766,1318L2762,1312L2758,1324z" fill="#fff"/>
<use href="#fr" x="2514" y="1097"/><use href="#fr" x="2519" y="1100"/><use href="#fr" x="2525" y="1103"/>
<path d="M2540,1128l6,-10l5,2l0,14l-7,12l-4,-2z" fill="#3a3a44"/>
<use href="#sl" x="2503" y="1193"/><use href="#sl" x="2519" y="1203"/><use href="#sl" x="2535" y="1213"/>
<path d="M2558,1222h8v22h-8z" fill="#d8d84a"/>
<text x="2496" y="1318" textLength="119" lengthAdjust="spacingAndGlyphs" font-size="30">Encoder</text>
<text x="2497" y="1354" textLength="116" lengthAdjust="spacingAndGlyphs" font-size="30">features</text>
<text x="2536" y="1391" textLength="37" lengthAdjust="spacingAndGlyphs" font-size="30">(E)</text>
<text x="2664" y="1391" textLength="212" lengthAdjust="spacingAndGlyphs" font-size="28">Pred masks (M</text><text x="2877" y="1399" font-size="21" textLength="41" lengthAdjust="spacingAndGlyphs">pred</text><text x="2918" y="1391" font-size="28">)</text>
<circle cx="2627" cy="1154" r="19" class="w"/><text x="2627" y="1163" text-anchor="middle" font-size="32">c</text>
<line x1="2648" y1="1153" x2="2698" y2="1153" class="ln"/><line x1="2698" y1="1153" x2="2736" y2="1123" class="ar"/><line x1="2698" y1="1153" x2="2737" y2="1174" class="ar"/>
<circle cx="2760" cy="1120" r="19" class="w"/><text x="2760" y="1129" text-anchor="middle" font-size="32">c</text>
<circle cx="2761" cy="1172" r="19" class="w"/><text x="2761" y="1181" text-anchor="middle" font-size="32">c</text>
<line x1="2759" y1="1052" x2="2759" y2="1094" class="ar"/><line x1="2759" y1="1235" x2="2759" y2="1198" class="ar"/>
<line x1="2800" y1="1114" x2="2851" y2="1114" class="ar"/><line x1="2801" y1="1178" x2="2854" y2="1178" class="ar"/>
<rect x="2867" y="1025" width="56" height="254" rx="14" class="w"/>
<text transform="translate(2908 1265) rotate(-90)" textLength="228" lengthAdjust="spacingAndGlyphs" font-size="36">Discriminator</text>
<line x1="2933" y1="1100" x2="2984" y2="1100" class="ar"/><line x1="2933" y1="1216" x2="2985" y2="1216" class="ar"/>
<text x="3002" y="1113" textLength="57" lengthAdjust="spacingAndGlyphs" font-size="30" style="font-weight:normal">Real</text>
<text x="3001" y="1229" textLength="60" lengthAdjust="spacingAndGlyphs" font-size="30" style="font-weight:normal">Fake</text>
<text x="2553" y="1463" textLength="468" lengthAdjust="spacingAndGlyphs" font-size="33">(e) FG-BG Separability Loss</text>
</svg>
</body></html>
